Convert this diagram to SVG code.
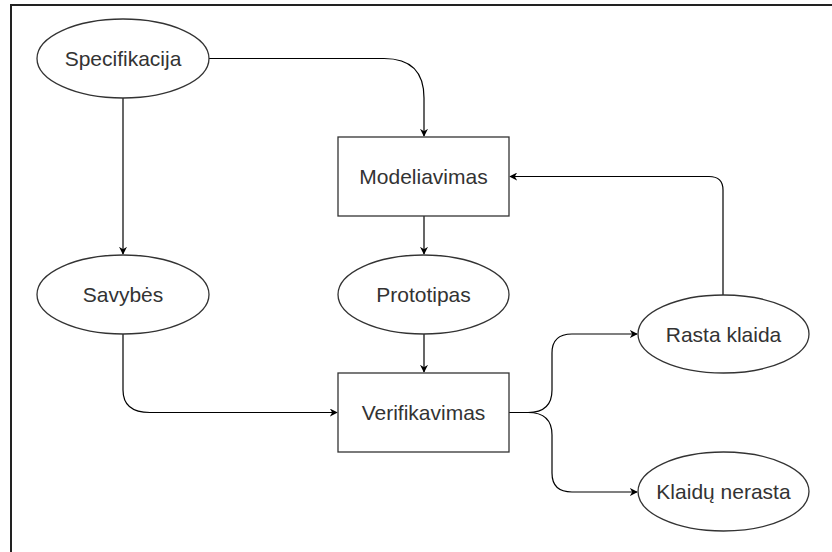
<svg xmlns="http://www.w3.org/2000/svg" width="832" height="552" viewBox="0 0 832 552">
<defs>
<marker id="arr" viewBox="0 0 10 10" refX="9" refY="5" markerWidth="8" markerHeight="8" markerUnits="userSpaceOnUse" orient="auto">
<path d="M0,0 L10,5 L0,10 L3,5 Z" fill="#000"/>
</marker>
</defs>
<style>
.shape{fill:#fff;stroke:#333;stroke-width:1.3}
.lbl{font-family:"Liberation Sans",Arial,sans-serif;font-size:21px;fill:#333;text-anchor:middle}
.edge{fill:none;stroke:#000;stroke-width:1.2;marker-end:url(#arr)}
</style>
<rect width="832" height="552" fill="#fff"/>
<path d="M11,560 V5 H840" fill="none" stroke="#222" stroke-width="2"/>
<g id="connectors">
<path class="edge" d="M209,58.5 H384 Q424,58.5 424,98 V136"/>
<path class="edge" d="M123,98 V254"/>
<path class="edge" d="M424,216 V254"/>
<path class="edge" d="M424,334 V372"/>
<path class="edge" d="M123,334 V390 Q123,412.5 150,412.5 H337"/>
<path class="edge" d="M723,295 V190 Q723,176.5 709,176.5 H510"/>
<path class="edge" d="M509,412.5 H528 Q552,412.5 552,390 V353 Q552,334 572,334 H637"/>
<path class="edge" d="M509,412.5 H528 Q552,412.5 552,435 V473 Q552,492 572,492 H637"/>
</g>
<g id="specifikacija"><ellipse class="shape" cx="123" cy="58.5" rx="86" ry="39.5"/><text class="lbl" x="123" y="66">Specifikacija</text></g>
<g id="modeliavimas"><rect class="shape" x="338" y="137" width="171" height="79"/><text class="lbl" x="423.5" y="184">Modeliavimas</text></g>
<g id="savybes"><ellipse class="shape" cx="123" cy="294.5" rx="86" ry="39.5"/><text class="lbl" x="123" y="302">Savybės</text></g>
<g id="prototipas"><ellipse class="shape" cx="423.5" cy="294.5" rx="85.5" ry="39.5"/><text class="lbl" x="423.5" y="302">Prototipas</text></g>
<g id="verifikavimas"><rect class="shape" x="338" y="373" width="171" height="79"/><text class="lbl" x="423.5" y="420">Verifikavimas</text></g>
<g id="rasta-klaida"><ellipse class="shape" cx="723.5" cy="334" rx="85.5" ry="39"/><text class="lbl" x="723.5" y="341.5">Rasta klaida</text></g>
<g id="klaidu-nerasta"><ellipse class="shape" cx="723.5" cy="491.5" rx="85.5" ry="39.5"/><text class="lbl" x="723.5" y="499">Klaidų nerasta</text></g>
</svg>
